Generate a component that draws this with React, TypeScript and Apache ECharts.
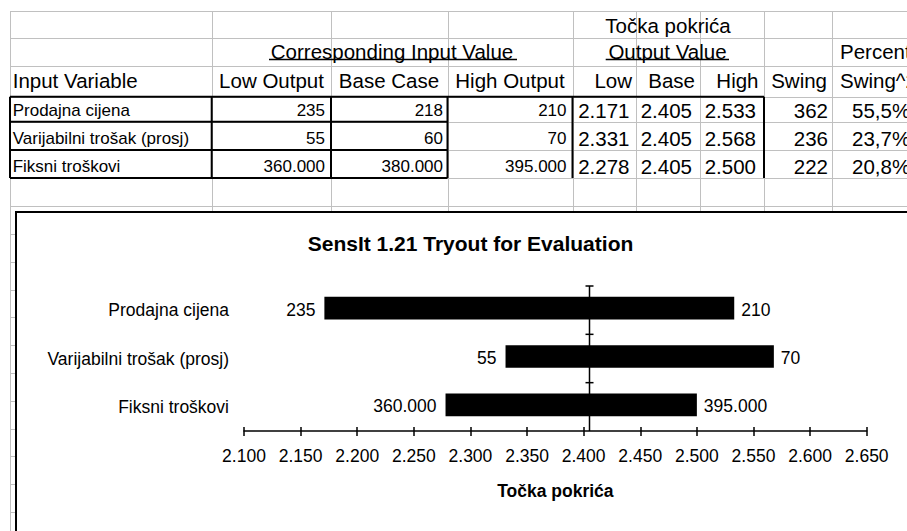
import React, { useEffect, useRef } from "react";
import * as echarts from "echarts";

// ---------- data ----------
const categories = ["Prodajna cijena", "Varijabilni trošak (prosj)", "Fiksni troškovi"];
const lowInput = [235, 55, 360000];
const baseInput = [218, 60, 380000];
const highInput = [210, 70, 395000];
const lowOutput = [2171, 2331, 2278];
const baseOutput = 2405;
const highOutput = [2533, 2568, 2500];
const swing = [362, 236, 222];
const percentSwing = [55.5, 23.7, 20.8];
const axisMin = 2100;
const axisMax = 2650;
const axisStep = 50;
const outputName = "Točka pokrića";
const chartTitle = "SensIt 1.21 Tryout for Evaluation";

const FONT = '"Liberation Sans", Arial, Helvetica, sans-serif';
const fmt = (n: number) => Math.round(n).toString().replace(/\B(?=(\d{3})+(?!\d))/g, ".");
const fmtPct = (p: number) => p.toFixed(1).replace(".", ",") + "%";

// ---------- spreadsheet layout ----------
const colX = [10, 211.7, 331, 447.5, 572.5, 636, 700, 764, 832];
const rowY = [11, 38.3, 65.7, 96.7, 121.7, 150, 178, 206];
const GRAY = "#c0c0c0";

function buildSheet(): any[] {
  const els: any[] = [];
  const px = (v: number) => Math.round(v) + 0.5;
  const line = (x1: number, y1: number, x2: number, y2: number, stroke: string, w: number) =>
    els.push({ type: "line", silent: true, shape: { x1, y1, x2, y2 }, style: { stroke, lineWidth: w } });
  const txt = (text: string, x: number, y: number, align: string, size: number, weight = "normal") =>
    els.push({
      type: "text",
      silent: true,
      x,
      y,
      style: {
        text,
        fill: "#000",
        fontSize: size,
        fontFamily: FONT,
        fontWeight: weight,
        align,
        verticalAlign: "middle",
        textAlign: align,
        textVerticalAlign: "middle",
      },
    });

  // gray grid
  rowY.forEach((y) => line(10, px(y), 907, px(y), GRAY, 1));
  colX.forEach((x) => line(px(x), 11, px(x), 212, GRAY, 1));
  line(px(10), 206, px(10), 531, GRAY, 1);
  for (let y = 234; y < 531; y += 27.8) line(10, px(y), 16, px(y), GRAY, 1);

  // bold borders
  line(10, 96.7, 764, 96.7, "#000", 2);
  [121.7, 150, 178].forEach((y) => line(10, y, 447.5, y, "#000", 2));
  [10, 211.7, 331, 447.5, 572.5, 764].forEach((x) => line(x, 96.7, x, 178, "#000", 2));

  const BIG = 20.5;
  const SMALL = 17;
  // header rows
  txt(outputName, 668, 25, "center", BIG);
  txt("Corresponding Input Value", 392, 51.5, "center", BIG);
  txt("Output Value", 667.5, 51.5, "center", BIG);
  txt("Percent", 840, 51.5, "left", BIG);
  line(269, 59.5, 517, 59.5, "#000", 1.3);
  line(605.7, 59.5, 729, 59.5, "#000", 1.3);

  txt("Input Variable", 12.7, 80.7, "left", BIG);
  txt("Low Output", 271.5, 80.7, "center", BIG);
  txt("Base Case", 389, 80.7, "center", BIG);
  txt("High Output", 510, 80.7, "center", BIG);
  txt("Low", 632, 80.7, "right", BIG);
  txt("Base", 695, 80.7, "right", BIG);
  txt("High", 758.5, 80.7, "right", BIG);
  txt("Swing", 827, 80.7, "right", BIG);
  txt("Swing^2", 840, 80.7, "left", BIG);

  const rowCenters = [110.3, 138.3, 166.3];
  categories.forEach((c, i) => {
    const y = rowCenters[i];
    txt(c, 12.7, y, "left", SMALL);
    txt(fmt(lowInput[i]), 325, y, "right", SMALL);
    txt(fmt(baseInput[i]), 443, y, "right", SMALL);
    txt(fmt(highInput[i]), 566.5, y, "right", SMALL);
    txt(fmt(lowOutput[i]), 629.5, y, "right", BIG);
    txt(fmt(baseOutput), 692, y, "right", BIG);
    txt(fmt(highOutput[i]), 756, y, "right", BIG);
    txt(fmt(swing[i]), 828, y, "right", BIG);
    txt(fmtPct(percentSwing[i]), 852, y, "left", BIG);
  });

  // chart object frame
  els.push({
    type: "rect",
    silent: true,
    shape: { x: 16, y: 212, width: 960, height: 400 },
    style: { fill: "none", stroke: "#000", lineWidth: 2 },
  });
  return els;
}

export default function App() {
  const ref = useRef<HTMLDivElement>(null);
  useEffect(() => {
    if (!ref.current) return;
    const chart = echarts.init(ref.current, null, { renderer: "svg" });
    const LABEL = 17.5;
    const option: any = {
      animation: false,
      backgroundColor: "#fff",
      textStyle: { fontFamily: FONT, color: "#000" },
      title: {
        text: chartTitle,
        left: 465.5,
        top: 228,
        textAlign: "center",
        textStyle: { fontSize: 21, fontWeight: "bold", color: "#000", fontFamily: FONT },
      },
      grid: { left: 244, top: 286, width: 622.7, height: 145, containLabel: false },
      xAxis: [
        {
          type: "value",
          min: axisMin,
          max: axisMax,
          interval: axisStep,
          position: "bottom",
          axisLine: { show: true, lineStyle: { color: "#000", width: 1.5 } },
          axisTick: { show: true, inside: false, length: 5, lineStyle: { color: "#000", width: 1.5 } },
          axisLabel: { formatter: (v: number) => fmt(v), fontSize: LABEL, color: "#000", margin: 16, fontFamily: FONT },
          splitLine: { show: false },
          name: outputName,
          nameLocation: "middle",
          nameGap: 51,
          nameTextStyle: { fontSize: LABEL, fontWeight: "bold", color: "#000", fontFamily: FONT },
        },
        {
          type: "value",
          min: axisMin,
          max: axisMax,
          interval: axisStep,
          position: "bottom",
          axisLine: { show: false },
          axisTick: { show: true, inside: true, length: 4, lineStyle: { color: "#000", width: 1.5 } },
          axisLabel: { show: false },
          splitLine: { show: false },
        },
      ],
      yAxis: {
        type: "category",
        data: categories,
        inverse: true,
        axisLine: { show: false },
        axisTick: { show: false },
        axisLabel: { fontSize: LABEL, color: "#000", margin: 15, fontFamily: FONT },
        splitLine: { show: false },
      },
      series: [
        {
          type: "custom",
          name: "range",
          z: 3,
          data: categories.map((_, i) => [lowOutput[i], highOutput[i], i]),
          encode: { x: [0, 1], y: 2 },
          renderItem: (params: any, api: any) => {
            const idx = api.value(2);
            const s = api.coord([api.value(0), idx]);
            const e = api.coord([api.value(1), idx]);
            const h = api.size([0, 1])[1] * 0.47;
            const cy = s[1] - 2;
            const textStyle = (text: string, align: string) => ({
              text,
              fill: "#000",
              fontSize: LABEL,
              fontFamily: FONT,
              align,
              verticalAlign: "middle",
              textAlign: align,
              textVerticalAlign: "middle",
            });
            return {
              type: "group",
              children: [
                { type: "rect", shape: { x: s[0], y: cy - h / 2, width: e[0] - s[0], height: h }, style: { fill: "#000" } },
                { type: "text", x: s[0] - 9, y: cy + 1.5, style: textStyle(fmt(lowInput[idx]), "right") },
                { type: "text", x: e[0] + 7, y: cy + 1.5, style: textStyle(fmt(highInput[idx]), "left") },
              ],
            };
          },
        },
        {
          type: "custom",
          name: "base",
          z: 4,
          data: [[baseOutput, 0]],
          encode: { x: 0, y: 1 },
          renderItem: (params: any, api: any) => {
            const p = api.coord([api.value(0), 0]);
            const cs = params.coordSys;
            const band = api.size([0, 1])[1];
            const x = Math.round(p[0]) + 0.5;
            const children: any[] = [
              { type: "line", shape: { x1: x, y1: cs.y, x2: x, y2: cs.y + cs.height }, style: { stroke: "#000", lineWidth: 1.5 } },
            ];
            for (let k = 0; k < categories.length; k++) {
              const y = cs.y + k * band;
              children.push({ type: "line", shape: { x1: x - 4, y1: y, x2: x + 4, y2: y }, style: { stroke: "#000", lineWidth: 1.5 } });
            }
            return { type: "group", children };
          },
        },
      ],
      graphic: { elements: buildSheet() },
    };
    chart.setOption(option);
    return () => chart.dispose();
  }, []);
  return (
    <div
      ref={ref}
      style={{ position: "fixed", left: 0, top: 0, width: 907, height: 531, background: "#fff" }}
    />
  );
}
